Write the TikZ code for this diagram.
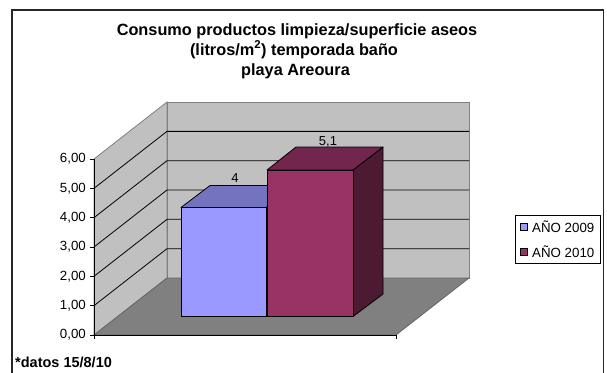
\documentclass[tikz,border=0pt]{standalone}
\usepackage{fontspec}
\setmainfont{Liberation Sans}
\definecolor{wallgray}{HTML}{C0C0C0}
\definecolor{floorgray}{HTML}{808080}
\definecolor{blfront}{HTML}{9999FF}
\definecolor{bltop}{HTML}{7373BF}
\definecolor{blside}{HTML}{4D4D80}
\definecolor{rdfront}{HTML}{993366}
\definecolor{rdtop}{HTML}{73264D}
\definecolor{rdside}{HTML}{4D1A33}
\tikzset{
  ticklbl/.style={anchor=east, inner sep=0pt, font=\fontsize{13.3}{13}\selectfont},
  vallbl/.style={anchor=base, inner sep=0pt, font=\fontsize{13}{13}\selectfont},
  titlelbl/.style={anchor=base, inner sep=0pt, font=\bfseries\fontsize{16.3}{18}\selectfont},
  leglbl/.style={anchor=west, inner sep=0pt, font=\fontsize{13.3}{13}\selectfont},
  barface/.style={draw=black, line width=0.8pt, line join=round},
  wallline/.style={draw=floorgray, line width=0.8pt},
  gridline/.style={draw=black, line width=0.8pt}
}
\begin{document}
\begin{tikzpicture}[x=1pt,y=-1pt]
\useasboundingbox (0,0) rectangle (607,372);
\fill[white] (0,0) rectangle (607,372);
% outer frame
\draw[line width=1.6pt, black!85] (12,380) -- (12,10) -- (603.5,10) -- (603.5,380);
% titles
\node[titlelbl] (title1) at (297,35) {Consumo productos limpieza/superficie aseos};
\node[titlelbl] (title2) at (294,55) {(litros/m\textsuperscript{2}) temporada baño};
\node[titlelbl] (title3) at (295.5,75) {playa Areoura};
% walls
\filldraw[fill=wallgray, wallline] (94,335) -- (94,159) -- (167,102) -- (167,278) -- cycle;
\filldraw[fill=wallgray, wallline] (167,102) rectangle (469,278);
% gridlines
\foreach \k in {1,...,5} {
  \draw[gridline] (94,{335-29.33*\k}) -- (167,{278-29.33*\k}) -- (469,{278-29.33*\k});
}
% floor
\filldraw[fill=floorgray, draw=floorgray!80!black, line width=0.8pt] (94,335) -- (396,335) -- (469,278) -- (167,278) -- cycle;
% axes
\draw[black, line width=1pt] (94,159) -- (94,335) -- (396,335);
\draw[black, line width=1pt] (94,335) -- (94,339);
\draw[black, line width=1pt] (396,335) -- (396,339);
\foreach \k/\v in {0/0,1/1,2/2,3/3,4/4,5/5,6/6} {
  \draw[black, line width=1pt] (90,{335-29.33*\k}) -- (94,{335-29.33*\k});
  \node[ticklbl] (t\k) at (86,{335-29.33*\k}) {\v,00};
}
% blue bar
\filldraw[fill=blside, barface] (266,207.5) -- (295,185.5) -- (295,294.5) -- (266,316.5) -- cycle;
\filldraw[fill=bltop, barface] (181,207.5) -- (210,185.5) -- (295,185.5) -- (266,207.5) -- cycle;
\filldraw[fill=blfront, barface] (181,207.5) rectangle (266,316.5);
% red bar
\filldraw[fill=rdside, barface] (353,170) -- (383,147) -- (383,294) -- (353,316.5) -- cycle;
\filldraw[fill=rdtop, barface] (267,170) -- (296,147) -- (383,147) -- (353,170) -- cycle;
\filldraw[fill=rdfront, barface] (267,170) rectangle (353,316.5);
% value labels
\node[vallbl] (lbl4) at (235,182) {4};
\node[vallbl] (lbl51) at (328,145) {5,1};
% legend
\node[draw=black, line width=0.8pt, fill=white, minimum width=85pt, minimum height=48pt, anchor=north west, inner sep=0pt] (leg) at (515,215) {};
\filldraw[fill=blfront, draw=black, line width=0.7pt] (520.5,223.5) rectangle (527,230);
\filldraw[fill=rdfront, draw=black, line width=0.7pt] (520.5,248.5) rectangle (527,255);
\node[leglbl] (leg1) at (532,227) {AÑO 2009};
\node[leglbl] (leg2) at (532,252) {AÑO 2010};
% footnote
\node[anchor=west, inner sep=0pt, font=\bfseries\fontsize{14.5}{14}\selectfont] (foot) at (15,362) {*datos 15/8/10};
\end{tikzpicture}
\end{document}
